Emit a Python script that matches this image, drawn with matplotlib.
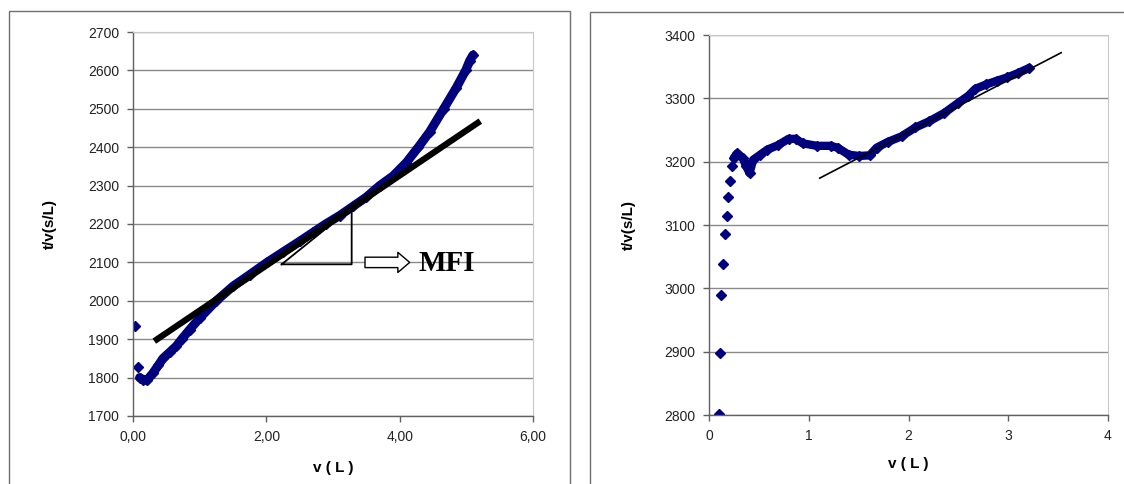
import matplotlib.pyplot as plt
from matplotlib.patches import Rectangle

# left chart: t/v against v
left_v = [0.03, 0.07, 0.10, 0.15, 0.21, 0.30, 0.38, 0.45, 0.55, 0.65, 0.73, 0.85,
          1.00, 1.25, 1.50, 1.75, 2.01, 2.25, 2.50, 2.70, 2.89, 3.10, 3.30, 3.50,
          3.70, 3.90, 4.10, 4.28, 4.45, 4.66, 4.85, 4.99, 5.05, 5.10]
left_t = [1934, 1827, 1800, 1795, 1793, 1812, 1832, 1850, 1866, 1882, 1900, 1925,
          1955, 2000, 2038, 2068, 2100, 2127, 2155, 2178, 2200, 2222, 2246, 2270,
          2300, 2325, 2360, 2400, 2440, 2500, 2555, 2600, 2625, 2640]
left_fit_v = [0.32, 5.21]
left_fit_t = [1895, 2468]
tri_v = [2.23, 3.28, 3.28, 2.23]
tri_t = [2095, 2095, 2242, 2095]

# right chart
right_v = [0.096, 0.106, 0.124, 0.142, 0.159, 0.184, 0.195, 0.213, 0.230,
           0.248, 0.283, 0.337, 0.372, 0.407, 0.443, 0.514, 0.585, 0.691, 0.797,
           0.868, 0.939, 1.081, 1.222, 1.290, 1.400, 1.506, 1.610, 1.680, 1.790,
           1.930, 2.070, 2.210, 2.360, 2.500, 2.600, 2.670, 2.780, 2.890, 2.990,
           3.100, 3.210]
right_t = [2801, 2898, 2990, 3039, 3086, 3114, 3144, 3170, 3193,
           3206, 3213, 3206, 3193, 3182, 3203, 3211, 3219, 3226, 3236,
           3236, 3229, 3225, 3225, 3222, 3211, 3209, 3210, 3222, 3231,
           3240, 3254, 3264, 3277, 3293, 3304, 3315, 3322, 3328, 3333,
           3340, 3348]
right_fit_v = [1.11, 3.53]
right_fit_t = [3174, 3372]

left_xticks = [0, 2, 4, 6]
left_xlabels = ['0,00', '2,00', '4,00', '6,00']
left_yticks = list(range(1700, 2701, 100))
right_xticks = [0, 1, 2, 3, 4]
right_yticks = list(range(2800, 3401, 100))

navy = '#00007f'
plt.rcParams['font.family'] = ['Liberation Sans', 'DejaVu Sans']

fig = plt.figure(figsize=(11.24, 4.84), dpi=100)

# chart frames like in the spreadsheet export
fig.patches.append(Rectangle((9 / 1124, -0.1), (570 - 9) / 1124, 1.1 - 11 / 484,
                             transform=fig.transFigure, fill=False,
                             ec='#707070', lw=1))
fig.patches.append(Rectangle((590 / 1124, -0.1), 0.5, 1.1 - 12 / 484,
                             transform=fig.transFigure, fill=False,
                             ec='#707070', lw=1))

ax1 = fig.add_axes([133 / 1124, 1 - 416 / 484, 400 / 1124, 384 / 484])
ax2 = fig.add_axes([709 / 1124, 1 - 415 / 484, 399 / 1124, 380 / 484])


def style(ax):
    for s in ['top', 'right']:
        ax.spines[s].set_color('#c8c8c8')
        ax.spines[s].set_linewidth(0.8)
    for s in ['left', 'bottom']:
        ax.spines[s].set_color('#606060')
        ax.spines[s].set_linewidth(1)
    ax.tick_params(direction='out', length=4, width=1, color='#606060',
                   labelsize=10, pad=6, labelcolor='#222222')
    ax.yaxis.grid(True, color='#8a8a8a', lw=1)
    ax.set_axisbelow(True)


# ---- left chart ----
style(ax1)
ax1.plot(left_v[:2], left_t[:2], ls='none', marker='D', ms=5, color=navy)
ax1.plot(left_v[2:], left_t[2:], lw=6.5, marker='D', ms=5, color=navy,
         solid_capstyle='round')
ax1.plot(tri_v, tri_t, color='black', lw=1.3)
ax1.plot(left_fit_v, left_fit_t, color='black', lw=4.5, solid_capstyle='butt')
ax1.annotate('', xy=(4.15, 2100), xytext=(3.48, 2100),
             arrowprops=dict(arrowstyle='simple,head_length=0.85,head_width=1.45,tail_width=0.75',
                             fc='white', ec='black', lw=1, shrinkA=0, shrinkB=0))
ax1.text(4.28, 2098, 'MFI', fontsize=21, fontweight='bold',
         family='Liberation Serif', va='center', ha='left')
ax1.set_xlim(0, 6)
ax1.set_ylim(1700, 2700)
ax1.set_xticks(left_xticks)
ax1.set_xticklabels(left_xlabels)
ax1.set_yticks(left_yticks)
ax1.set_xlabel('v ( L )', fontsize=11, fontweight='bold', labelpad=12)
ax1.set_ylabel('t/v(s/L)', fontsize=11, fontweight='bold', labelpad=22)

# ---- right chart ----
style(ax2)
ax2.plot(right_v[:9], right_t[:9], ls='none', marker='D', ms=5.5, color=navy)
ax2.plot(right_v[9:], right_t[9:], lw=6, marker='D', ms=5, color=navy,
         solid_capstyle='round')
ax2.plot(right_fit_v, right_fit_t, color='black', lw=1.2)
ax2.set_xlim(0, 4)
ax2.set_ylim(2800, 3400)
ax2.set_xticks(right_xticks)
ax2.set_yticks(right_yticks)
ax2.set_xlabel('v ( L )', fontsize=11, fontweight='bold', labelpad=10)
ax2.set_ylabel('t/v(s/L)', fontsize=11, fontweight='bold', labelpad=20)

fig.savefig('out.png', dpi=100)
